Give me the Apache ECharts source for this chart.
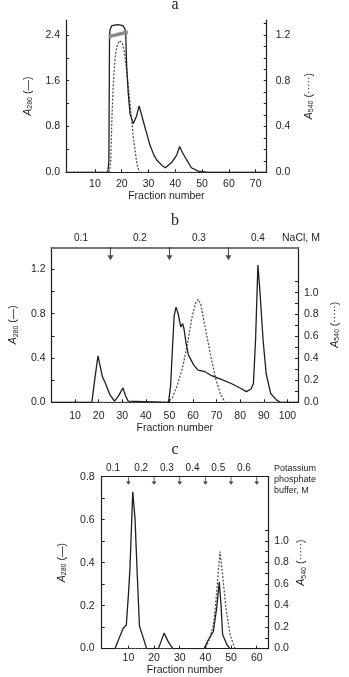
<!DOCTYPE html>
<html><head><meta charset="utf-8">
<script src="https://cdn.jsdelivr.net/npm/echarts@6/dist/echarts.min.js"></script>
<style>html,body{margin:0;padding:0;background:#fff}#c{width:349px;height:677px}</style>
</head><body><div id="c"></div>
<script>
// ---------- Panel a ----------
const aSolidFrac = [-0.8, 14.8, 15.2, 15.35, 15.45, 15.7, 16.3, 18.5, 20.5, 21.2, 21.5, 21.8, 22.4, 23.1, 24.3, 25.5, 26.5, 28, 29.3, 30.5, 32, 33, 35, 36.3, 38.6, 40.5, 41.6, 42.6, 44.2, 46, 48.5, 52, 74.1];
const aSolidA280 = [0, 0, 0.2, 1.5, 2.4, 2.5, 2.56, 2.58, 2.56, 2.5, 2.4, 1.9, 1.4, 1.02, 0.85, 0.98, 1.16, 0.9, 0.68, 0.48, 0.3, 0.22, 0.12, 0.08, 0.17, 0.3, 0.45, 0.35, 0.22, 0.08, 0.02, 0, 0];
const aBandFrac = [15.2, 22.3];
const aBandA280 = [2.37, 2.45];
const aDotFrac = [-0.8, 15.4, 15.9, 16.3, 16.8, 17.5, 18.2, 19.1, 20.2, 21.0, 21.8, 23.1, 24.3, 25.6, 26.6, 74.1];
const aDotA540 = [0, 0, 0.1, 0.45, 0.75, 1.0, 1.1, 1.15, 1.13, 1.05, 0.89, 0.6, 0.31, 0.08, 0, 0];
const aXLabels = [10, 20, 30, 40, 50, 60, 70];
const aLeftLabels = [0, 0.8, 1.6, 2.4];
const aLeftTicks = [0, 0.4, 0.8, 1.2, 1.6, 2.0, 2.4];
const aRightLabels = [0, 0.4, 0.8, 1.2];
const aRightTicks = [0, 0.1, 0.2, 0.3, 0.4, 0.5, 0.6, 0.7, 0.8, 0.9, 1.0, 1.1, 1.2, 1.3];

// ---------- Panel b ----------
const bSolidFrac = [0, 17.1, 18.3, 19.7, 20.6, 21.6, 22.9, 24.8, 26.7, 28.5, 30.3, 31.4, 32.5, 49.6, 50.5, 51.3, 52.0, 52.8, 53.7, 54.8, 55.6, 56.2, 57.0, 58.0, 60.2, 62.1, 64.7, 67.9, 71.7, 76.2, 80.1, 82.6, 84.6, 85.6, 86.5, 87.5, 88.4, 89.7, 91.0, 92.9, 95.5, 97, 104.5];
const bSolidA280 = [0, 0, 0.2, 0.42, 0.33, 0.23, 0.17, 0.066, 0.01, 0.06, 0.13, 0.06, 0.01, 0, 0.15, 0.5, 0.78, 0.86, 0.8, 0.68, 0.71, 0.66, 0.54, 0.43, 0.34, 0.29, 0.28, 0.24, 0.21, 0.17, 0.127, 0.096, 0.12, 0.17, 0.56, 1.24, 0.99, 0.56, 0.26, 0.08, 0.02, 0, 0];
const bDotFrac = [0, 49.2, 51.2, 53.1, 55.6, 57.6, 59.5, 61.0, 62.1, 63.2, 64.0, 65.9, 67.9, 69.8, 71.7, 73.6, 104.5];
const bDotA540 = [0, 0, 0.04, 0.14, 0.32, 0.53, 0.77, 0.9, 0.94, 0.9, 0.81, 0.6, 0.38, 0.2, 0.07, 0, 0];
const bXLabels = [10, 20, 30, 40, 50, 60, 70, 80, 90, 100];
const bLeftLabels = [0, 0.4, 0.8, 1.2];
const bLeftTicks = [0, 0.2, 0.4, 0.6, 0.8, 1.0, 1.2];
const bRightLabels = [0, 0.2, 0.4, 0.6, 0.8, 1.0];
const bRightTicks = [0, 0.1, 0.2, 0.3, 0.4, 0.5, 0.6, 0.7, 0.8, 0.9, 1.0, 1.1];
const bArrowFrac = [25, 50, 75];
const bSaltPos = [12.5, 37.5, 62.5, 87.5];
const bSaltLabels = ['0.1', '0.2', '0.3', '0.4'];

// ---------- Panel c ----------
const cSolidFrac = [-0.4, 4.8, 6.7, 8.0, 9.2, 10.0, 10.6, 11.7, 12.6, 13.5, 14.3, 15.8, 17.1, 21.7, 23.9, 25.6, 27.3, 39.5, 41.1, 43.1, 44.4, 45.4, 46.1, 46.7, 48.3, 49.6, 64.5];
const cSolidA280 = [0, 0, 0.058, 0.095, 0.11, 0.25, 0.37, 0.73, 0.60, 0.33, 0.105, 0.05, 0, 0, 0.072, 0.03, 0, 0, 0.04, 0.08, 0.19, 0.31, 0.2, 0.066, 0.02, 0, 0];
const cDotFrac = [-0.4, 39.9, 41.5, 43.1, 44.1, 45.0, 45.7, 46.7, 48.0, 49.6, 51.5, 64.5];
const cDotA540 = [0, 0, 0.08, 0.22, 0.44, 0.71, 0.9, 0.68, 0.375, 0.13, 0, 0];
const cXLabels = [10, 20, 30, 40, 50, 60];
const cLeftLabels = [0, 0.2, 0.4, 0.6, 0.8];
const cLeftTicks = [0, 0.1, 0.2, 0.3, 0.4, 0.5, 0.6, 0.7, 0.8];
const cRightLabels = [0, 0.2, 0.4, 0.6, 0.8, 1.0];
const cRightTicks = [0, 0.1, 0.2, 0.3, 0.4, 0.5, 0.6, 0.7, 0.8, 0.9, 1.0, 1.1];
const cArrowFrac = [10, 20, 30, 40, 50, 60];
const cSaltPos = [4, 15, 25, 35, 45, 55];
const cSaltLabels = ['0.1', '0.2', '0.3', '0.4', '0.5', '0.6'];

const zip = (xs, ys) => xs.map((x, i) => [x, ys[i]]);
const FONT = '"Liberation Sans", Arial, sans-serif';
const SERIF = '"Liberation Serif", "Times New Roman", serif';
const INK = '#1e1e1e';
const TXT = { fontFamily: FONT, fontSize: 10.5, color: INK };
const RICH = {
  i: { fontFamily: FONT, fontSize: 10.5, fontStyle: 'italic', color: INK },
  s: { fontFamily: FONT, fontSize: 7, color: INK, padding: [5, 0, 0, 0] },
  n: { fontFamily: FONT, fontSize: 10.5, color: INK }
};
const name280 = '{i|A}{s|280}{n| (—)}';
const name540 = '{i|A}{s|540}{n| (·····)}';

function xBottom(grid, min, max, labels, ticks, margin, nameGap) {
  return {
    type: 'value', gridIndex: grid, position: 'bottom', min, max,
    name: 'Fraction number', nameLocation: 'middle', nameGap,
    nameTextStyle: TXT,
    axisLine: { show: true, onZero: false, lineStyle: { color: INK, width: 1.2 } },
    axisTick: { show: true, inside: true, length: 3, customValues: ticks, lineStyle: { color: INK } },
    axisLabel: { show: true, customValues: labels, margin, ...TXT, formatter: v => String(v) },
    splitLine: { show: false }
  };
}
function xTop(grid, min, max, pos, labels, margin, lineColor, lineWidth) {
  return {
    type: 'value', gridIndex: grid, position: 'top', min, max,
    axisLine: { show: true, onZero: false, lineStyle: { color: lineColor, width: lineWidth } },
    axisTick: { show: false },
    axisLabel: { show: true, customValues: pos, margin, ...TXT, fontSize: 10,
      formatter: v => { const k = pos.indexOf(v); return k >= 0 ? labels[k] : ''; } },
    splitLine: { show: false }
  };
}
function yAx(grid, position, max, labels, ticks, margin, name, nameGap) {
  return {
    type: 'value', gridIndex: grid, position, min: 0, max,
    name, nameLocation: 'middle', nameGap,
    nameTextStyle: { ...TXT, rich: RICH },
    axisLine: { show: true, onZero: false, lineStyle: { color: INK, width: 1.2 } },
    axisTick: { show: true, inside: true, length: 3, customValues: ticks, lineStyle: { color: INK } },
    axisLabel: { show: true, customValues: labels, margin, ...TXT, formatter: v => v.toFixed(1) },
    splitLine: { show: false }
  };
}
const solid = { color: INK, width: 1.3 };
const dotted = { color: '#555', width: 1.3, type: [2, 1.6] };
const arrowPath = 'path://M4.4,0 L5.6,0 L5.6,8 L8.5,8 L5,13 L1.5,8 L4.4,8 Z';

const option = {
  animation: false,
  backgroundColor: '#fff',
  grid: [
    { left: 66, top: 20, width: 200.7, height: 152.3 },
    { left: 40.7, top: 247.3, width: 271, height: 155 },
    { left: 101.7, top: 476.7, width: 166.6, height: 174.3 }
  ],
  xAxis: [
    xBottom(0, -0.8, 74.1, aXLabels, aXLabels, 6, 16),
    xBottom(1, 0, 104.5, bXLabels, bXLabels, 8, 19),
    xTop(1, 0, 104.5, bSaltPos, bSaltLabels, 4, '#777', 2),
    xBottom(2, -0.4, 64.5, cXLabels, cXLabels, 4.5, 15.5),
    xTop(2, -0.4, 64.5, cSaltPos, cSaltLabels, 3.5, INK, 1.2)
  ],
  yAxis: [
    yAx(0, 'left', 2.66, aLeftLabels, aLeftTicks, 6, name280, 32),
    yAx(0, 'right', 1.33, aRightLabels, aRightTicks, 9, name540, 36),
    yAx(1, 'left', 1.4, bLeftLabels, bLeftTicks, 6, name280, 32),
    yAx(1, 'right', 1.414, bRightLabels, bRightTicks, 6, name540, 29),
    yAx(2, 'left', 0.8, cLeftLabels, cLeftTicks, 7, name280, 34),
    yAx(2, 'right', 1.595, cRightLabels, cRightTicks, 6, name540, 27)
  ],
  graphic: [
    { type: 'text', x: 175, y: 5, style: { text: 'a', font: '16px ' + SERIF, fill: INK, textAlign: 'center', textVerticalAlign: 'middle' } },
    { type: 'text', x: 175, y: 221, style: { text: 'b', font: '16px ' + SERIF, fill: INK, textAlign: 'center', textVerticalAlign: 'middle' } },
    { type: 'text', x: 175, y: 450, style: { text: 'c', font: '16px ' + SERIF, fill: INK, textAlign: 'center', textVerticalAlign: 'middle' } },
    { type: 'text', x: 282, y: 238, style: { text: 'NaCl, M', font: '10.5px ' + FONT, fill: INK, textAlign: 'left', textVerticalAlign: 'middle' } },
    { type: 'text', x: 274, y: 463, style: { text: 'Potassium\nphosphate\nbuffer, M', font: '9px ' + FONT, lineHeight: 11, fill: INK, textAlign: 'left', textVerticalAlign: 'top' } }
  ],
  series: [
    { type: 'line', xAxisIndex: 0, yAxisIndex: 0, data: zip(aSolidFrac, aSolidA280), showSymbol: false, lineStyle: solid, z: 3 },
    { type: 'line', xAxisIndex: 0, yAxisIndex: 0, data: zip(aBandFrac, aBandA280), showSymbol: false, lineStyle: { color: '#8a8a8a', width: 3.5 }, z: 4 },
    { type: 'line', xAxisIndex: 0, yAxisIndex: 1, data: zip(aDotFrac, aDotA540), showSymbol: false, lineStyle: dotted, z: 2 },
    { type: 'line', xAxisIndex: 1, yAxisIndex: 2, data: zip(bSolidFrac, bSolidA280), showSymbol: false, lineStyle: solid, z: 3 },
    { type: 'line', xAxisIndex: 1, yAxisIndex: 3, data: zip(bDotFrac, bDotA540), showSymbol: false, lineStyle: dotted, z: 2 },
    { type: 'scatter', xAxisIndex: 1, yAxisIndex: 2, data: bArrowFrac.map(f => [f, 1.4]), symbol: arrowPath, symbolSize: [6, 13], symbolOffset: [0, '50%'], itemStyle: { color: INK }, z: 5 },
    { type: 'line', xAxisIndex: 3, yAxisIndex: 4, data: zip(cSolidFrac, cSolidA280), showSymbol: false, lineStyle: solid, z: 3 },
    { type: 'line', xAxisIndex: 3, yAxisIndex: 5, data: zip(cDotFrac, cDotA540), showSymbol: false, lineStyle: dotted, z: 2 },
    { type: 'scatter', xAxisIndex: 3, yAxisIndex: 4, data: cArrowFrac.map(f => [f, 0.8]), symbol: arrowPath, symbolSize: [5, 8], symbolOffset: [0, '50%'], itemStyle: { color: INK }, z: 5 }
  ]
};
const chart = echarts.init(document.getElementById('c'), null, { renderer: 'canvas' });
chart.setOption(option);
</script>
</body></html>
